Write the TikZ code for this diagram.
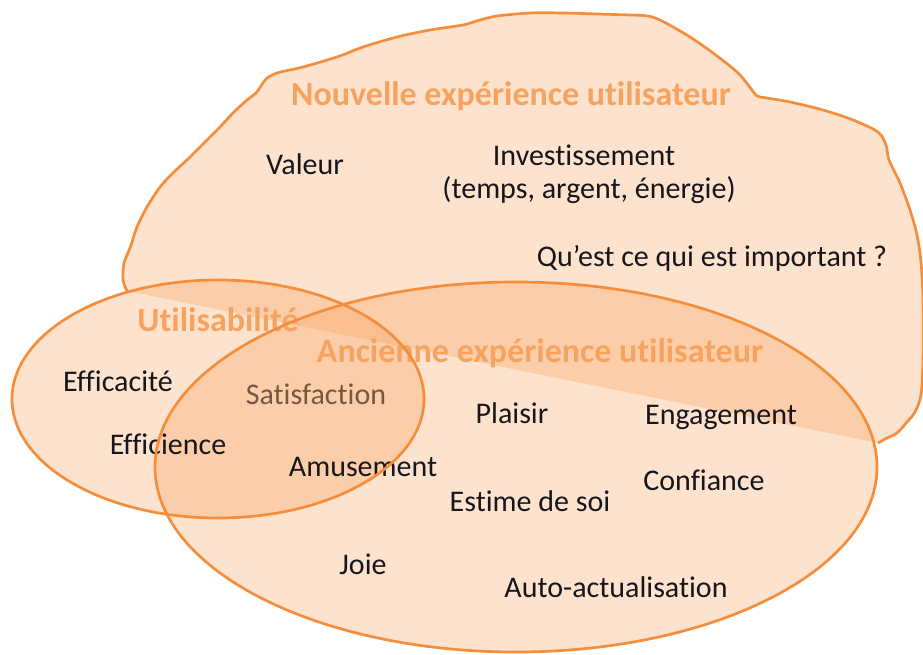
\documentclass[tikz,border=0pt]{standalone}
\usepackage{fontspec}
\setmainfont{Carlito}[RawFeature=-liga]
\definecolor{ux}{RGB}{247,150,70}
\definecolor{uxline}{RGB}{244,142,60}
\definecolor{uxtitle}{RGB}{246,163,95}
\definecolor{txt}{RGB}{22,22,28}
\definecolor{satis}{RGB}{72,64,64}
\begin{document}
\begin{tikzpicture}[x=1pt,y=-1pt,
  zone/.style={fill=ux,fill opacity=0.27},
  rim/.style={draw=uxline,line width=2.7pt},
  blobrim/.style={draw=uxline,line width=2.7pt,line join=round},
  title/.style={text=uxtitle,font=\fontsize{34}{38}\selectfont\bfseries,anchor=base,inner sep=0pt},
  word/.style={text=txt,font=\fontsize{30}{34}\selectfont,anchor=base,inner sep=0pt}]
\useasboundingbox (0,0) rectangle (923,655);
\def\blobpts{(127,291) (123,280) (124,263) (130,248) (137,227) (147,207) (160,187) (173,173) (190,157) (207,140) (220,127) (233,113) (247,100) (256,93) (261,86) (266,79) (277,73) (303,67) (337,57) (363,47) (397,37) (430,30) (463,25) (480,20) (497,16) (530,13) (563,13) (597,14) (630,15) (648,16) (662,21) (690,37) (713,53) (737,72) (749,86) (757,96) (767,98) (790,102) (823,110) (853,120) (878,132) (886,145) (889,160) (900,183) (910,210) (917,235) (921,262) (923,300) (923,360) (921,395) (915,412) (907,422) (897,433) (887,438) (878,443)}
% Nouvelle experience utilisateur (blob)
\fill[zone] plot[smooth,tension=0.5] coordinates {\blobpts} -- cycle;
\draw[blobrim] plot[smooth,tension=0.5] coordinates {\blobpts};
% Utilisabilite
\fill[zone] (218,399) ellipse [x radius=206, y radius=119];
\node[word, text=satis] (satisfaction) at (316,404) {Satisfaction};
% Ancienne experience utilisateur
\fill[zone] (516,467) ellipse [x radius=361, y radius=185];
% titles
\node[title] (nouvelle) at (511,106) {Nouvelle expérience utilisateur};
\node[title] (utilisabilite) at (218,331) {Utilisabilité};
\node[title] (ancienne) at (540,362) {Ancienne expérience utilisateur};
% words
\node[word] (valeur) at (305,175) {Valeur};
\node[word] (invest) at (584,166) {Investissement};
\node[word] (investb) at (589,199) {(temps, argent, énergie)};
\node[word] (important) at (712,266) {Qu’est ce qui est important ?};
\node[word] (efficacite) at (118,391) {Efficacité};
\node[word] (efficience) at (168,454) {Efficience};
\node[word] (plaisir) at (512,423) {Plaisir};
\node[word] (engagement) at (721,424) {Engagement};
\node[word] (amusement) at (363,476) {Amusement};
\node[word] (confiance) at (704,490) {Confiance};
\node[word] (estime) at (530,511) {Estime de soi};
\node[word] (joie) at (363,574) {Joie};
\node[word] (auto) at (616,597) {Auto-actualisation};
% outlines
\draw[rim] (218,399) ellipse [x radius=206, y radius=119];
\draw[rim] (516,467) ellipse [x radius=361, y radius=185];
\end{tikzpicture}
\end{document}
